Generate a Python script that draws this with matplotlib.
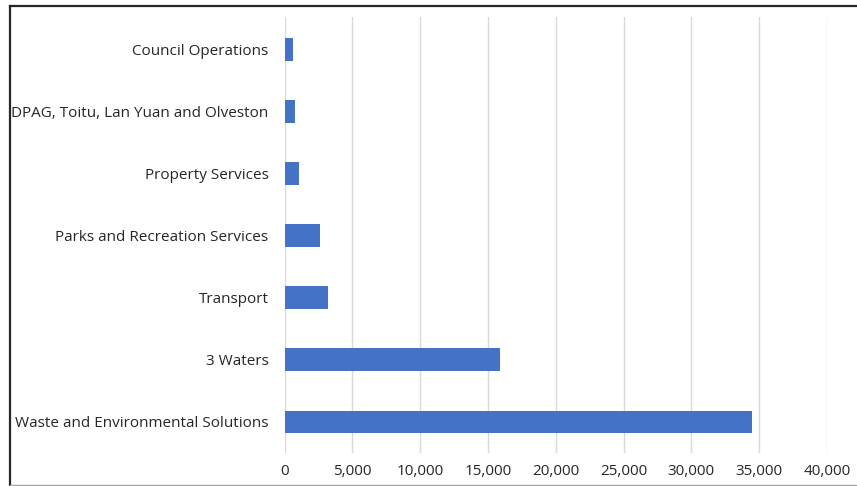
import matplotlib.pyplot as plt
from matplotlib.lines import Line2D
from matplotlib.ticker import FuncFormatter

# categories bottom to top
categories = ['Waste and Environmental Solutions', '3 Waters', 'Transport',
              'Parks and Recreation Services', 'Property Services',
              'DPAG, Toitu, Lan Yuan and Olveston', 'Council Operations']
values = [34500, 15900, 3230, 2650, 1050, 760, 620]
x_ticks = [0, 5000, 10000, 15000, 20000, 25000, 30000, 35000, 40000]

plt.rcParams['font.family'] = ['Open Sans', 'DejaVu Sans']

fig = plt.figure(figsize=(8.57, 4.86), dpi=100)
ax = fig.add_axes([284.5 / 857, 1 - 453 / 486, (827 - 284.5) / 857, (453 - 17) / 486])

ax.barh(range(len(categories)), values, height=0.37, color='#4472C4', zorder=3)
ax.set_yticks(range(len(categories)))
ax.set_yticklabels(categories, fontsize=11, color='#262626')
ax.set_ylim(-0.50, 6.53)
ax.set_xlim(0, 40000)
ax.set_xticks(x_ticks)
ax.xaxis.set_major_formatter(FuncFormatter(lambda v, p: f'{int(v):,}'))
ax.tick_params(axis='x', labelsize=11, labelcolor='#262626', length=0, pad=8)
ax.tick_params(axis='y', length=0, pad=11.5)
ax.grid(axis='x', color='#d9d9d9', linewidth=1, zorder=0)
for s in ax.spines.values():
    s.set_visible(False)

# outer frame of the screenshot
fig.add_artist(Line2D([9.5 / 857, 9.5 / 857], [0, 1 - 6.5 / 486], transform=fig.transFigure,
                      color='#262626', linewidth=1.6))
fig.add_artist(Line2D([9.5 / 857, 1], [1 - 6.5 / 486, 1 - 6.5 / 486], transform=fig.transFigure,
                      color='#262626', linewidth=1.6))
fig.add_artist(Line2D([9.5 / 857, 1], [1 / 486, 1 / 486], transform=fig.transFigure,
                      color='#a6a6a6', linewidth=1))

fig.savefig('out.png', dpi=100)
